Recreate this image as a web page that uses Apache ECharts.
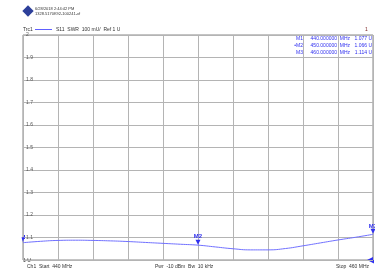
<!DOCTYPE html>
<html>
<head>
<meta charset="utf-8">
<script src="https://cdn.jsdelivr.net/npm/echarts@6/dist/echarts.min.js"></script>
<style>
html, body { margin: 0; padding: 0; background: #fff; }
#chart { width: 375px; height: 270px; }
</style>
</head>
<body>
<div id="chart"></div>
<script>
// trace S11 SWR, 440..460 MHz
var freqs = [440, 441, 442, 443, 444, 445, 446, 447, 448, 449, 450, 451, 452, 453, 454, 455, 456, 457, 458, 459, 460];
var swr = [1.077, 1.083, 1.087, 1.088, 1.087, 1.085, 1.082, 1.078, 1.074, 1.070, 1.066, 1.058, 1.050, 1.045, 1.045, 1.051, 1.063, 1.076, 1.089, 1.101, 1.114];

// marker table
var markerNames = ['M1', 'M2', 'M3'];
var markerFreqs = [440, 450, 460];
var markerVals = [1.077, 1.066, 1.114];

var chart = echarts.init(document.getElementById('chart'));
var font = 'Liberation Sans, Arial, sans-serif';
var blue = '#3030f0';

var data = [];
for (var i = 0; i < freqs.length; i++) {
    data.push([freqs[i], swr[i]]);
}

var mpData = [];
for (var k = 0; k < markerNames.length; k++) {
    var item = { name: markerNames[k], coord: [markerFreqs[k], markerVals[k]] };
    if (k === 0) {
        // M1 sits on the left edge, label is off the grid
        item.label = { show: false };
        item.symbolSize = [3, 5];
    }
    mpData.push(item);
}

// marker readout lines (top right)
var graphics = [];
for (var m = 0; m < markerNames.length; m++) {
    var y = 36 + m * 7;
    graphics.push({ type: 'text', right: 3, top: y, style: { text: markerVals[m].toFixed(3) + ' U', fill: blue, font: '5px ' + font } });
    graphics.push({ type: 'text', right: 25, top: y, style: { text: 'MHz', fill: blue, font: '5px ' + font } });
    graphics.push({ type: 'text', right: 38, top: y, style: { text: markerFreqs[m].toFixed(6), fill: blue, font: '5px ' + font } });
    graphics.push({ type: 'text', right: 72, top: y, style: { text: (m === 1 ? '•' : '') + markerNames[m], fill: blue, font: '5px ' + font } });
}

graphics = graphics.concat([
    // logo
    { type: 'rect', x: 28, y: 11, shape: { x: -4, y: -4, width: 8, height: 8 }, rotation: Math.PI / 4, style: { fill: '#2d3f9a' } },
    { type: 'text', left: 35, top: 7, style: { text: '6/28/2018 2:44:42 PM', fill: '#333', font: '4px ' + font } },
    { type: 'text', left: 35, top: 12, style: { text: '1328.5170K92-100241-xf', fill: '#333', font: '4px ' + font } },
    // trace header
    { type: 'text', left: 23, top: 27, style: { text: 'Trc1', fill: '#333', font: '5px ' + font } },
    { type: 'line', shape: { x1: 35, y1: 29.5, x2: 52, y2: 29.5 }, style: { stroke: '#6060ff', lineWidth: 1 } },
    { type: 'text', left: 56, top: 27, style: { text: 'S11  SWR  100 mU/  Ref 1 U', fill: '#333', font: '5px ' + font } },
    { type: 'text', left: 365, top: 27, style: { text: '1', fill: '#7a2020', font: '5px ' + font } },
    // bottom line
    { type: 'text', left: 23, top: 258, style: { text: '1 U', fill: '#333', font: '5px ' + font } },
    { type: 'text', left: 27, top: 264, style: { text: 'Ch1  Start  440 MHz', fill: '#333', font: '5px ' + font } },
    { type: 'text', left: 155, top: 264, style: { text: 'Pwr  -10 dBm  Bw  10 kHz', fill: '#333', font: '5px ' + font } },
    { type: 'text', right: 6, top: 264, style: { text: 'Stop  460 MHz', fill: '#333', font: '5px ' + font } },
    // reference position arrow
    { type: 'polygon', shape: { points: [[367, 260], [374, 256.5], [374, 263.5]] }, style: { fill: blue } },
    { type: 'rect', shape: { x: 23, y: 235, width: 2, height: 4 }, style: { fill: blue } }
]);

var option = {
    animation: false,
    backgroundColor: '#fff',
    grid: { left: 23, right: 2, top: 35, bottom: 10, show: true, borderColor: '#888', borderWidth: 1 },
    xAxis: {
        type: 'value', min: 440, max: 460, interval: 2,
        axisLine: { show: false }, axisTick: { show: false }, axisLabel: { show: false },
        splitLine: { lineStyle: { color: '#b4b4b4', width: 1 } }
    },
    yAxis: {
        type: 'value', min: 1, max: 2, interval: 0.1,
        axisLine: { show: false }, axisTick: { show: false },
        axisLabel: {
            inside: true, margin: 3, fontSize: 5, color: '#555', fontFamily: font,
            formatter: function (v) {
                if (Math.abs(v - 1) < 1e-6) return '';
                if (Math.abs(v - 2) < 1e-6) return '2';
                return v.toFixed(1);
            }
        },
        splitLine: { lineStyle: { color: '#b4b4b4', width: 1 } }
    },
    series: [{
        type: 'line',
        data: data,
        smooth: true,
        symbol: 'none',
        lineStyle: { color: '#7070ff', width: 1 },
        markPoint: {
            symbol: 'triangle',
            symbolRotate: 180,
            symbolSize: [5, 5],
            symbolOffset: [0, -3],
            itemStyle: { color: blue },
            label: { show: true, position: 'top', distance: 0, formatter: '{b}', color: blue, fontSize: 6, fontWeight: 'bold', fontFamily: font },
            data: mpData
        }
    }],
    graphic: graphics
};

chart.setOption(option);
</script>
</body>
</html>
